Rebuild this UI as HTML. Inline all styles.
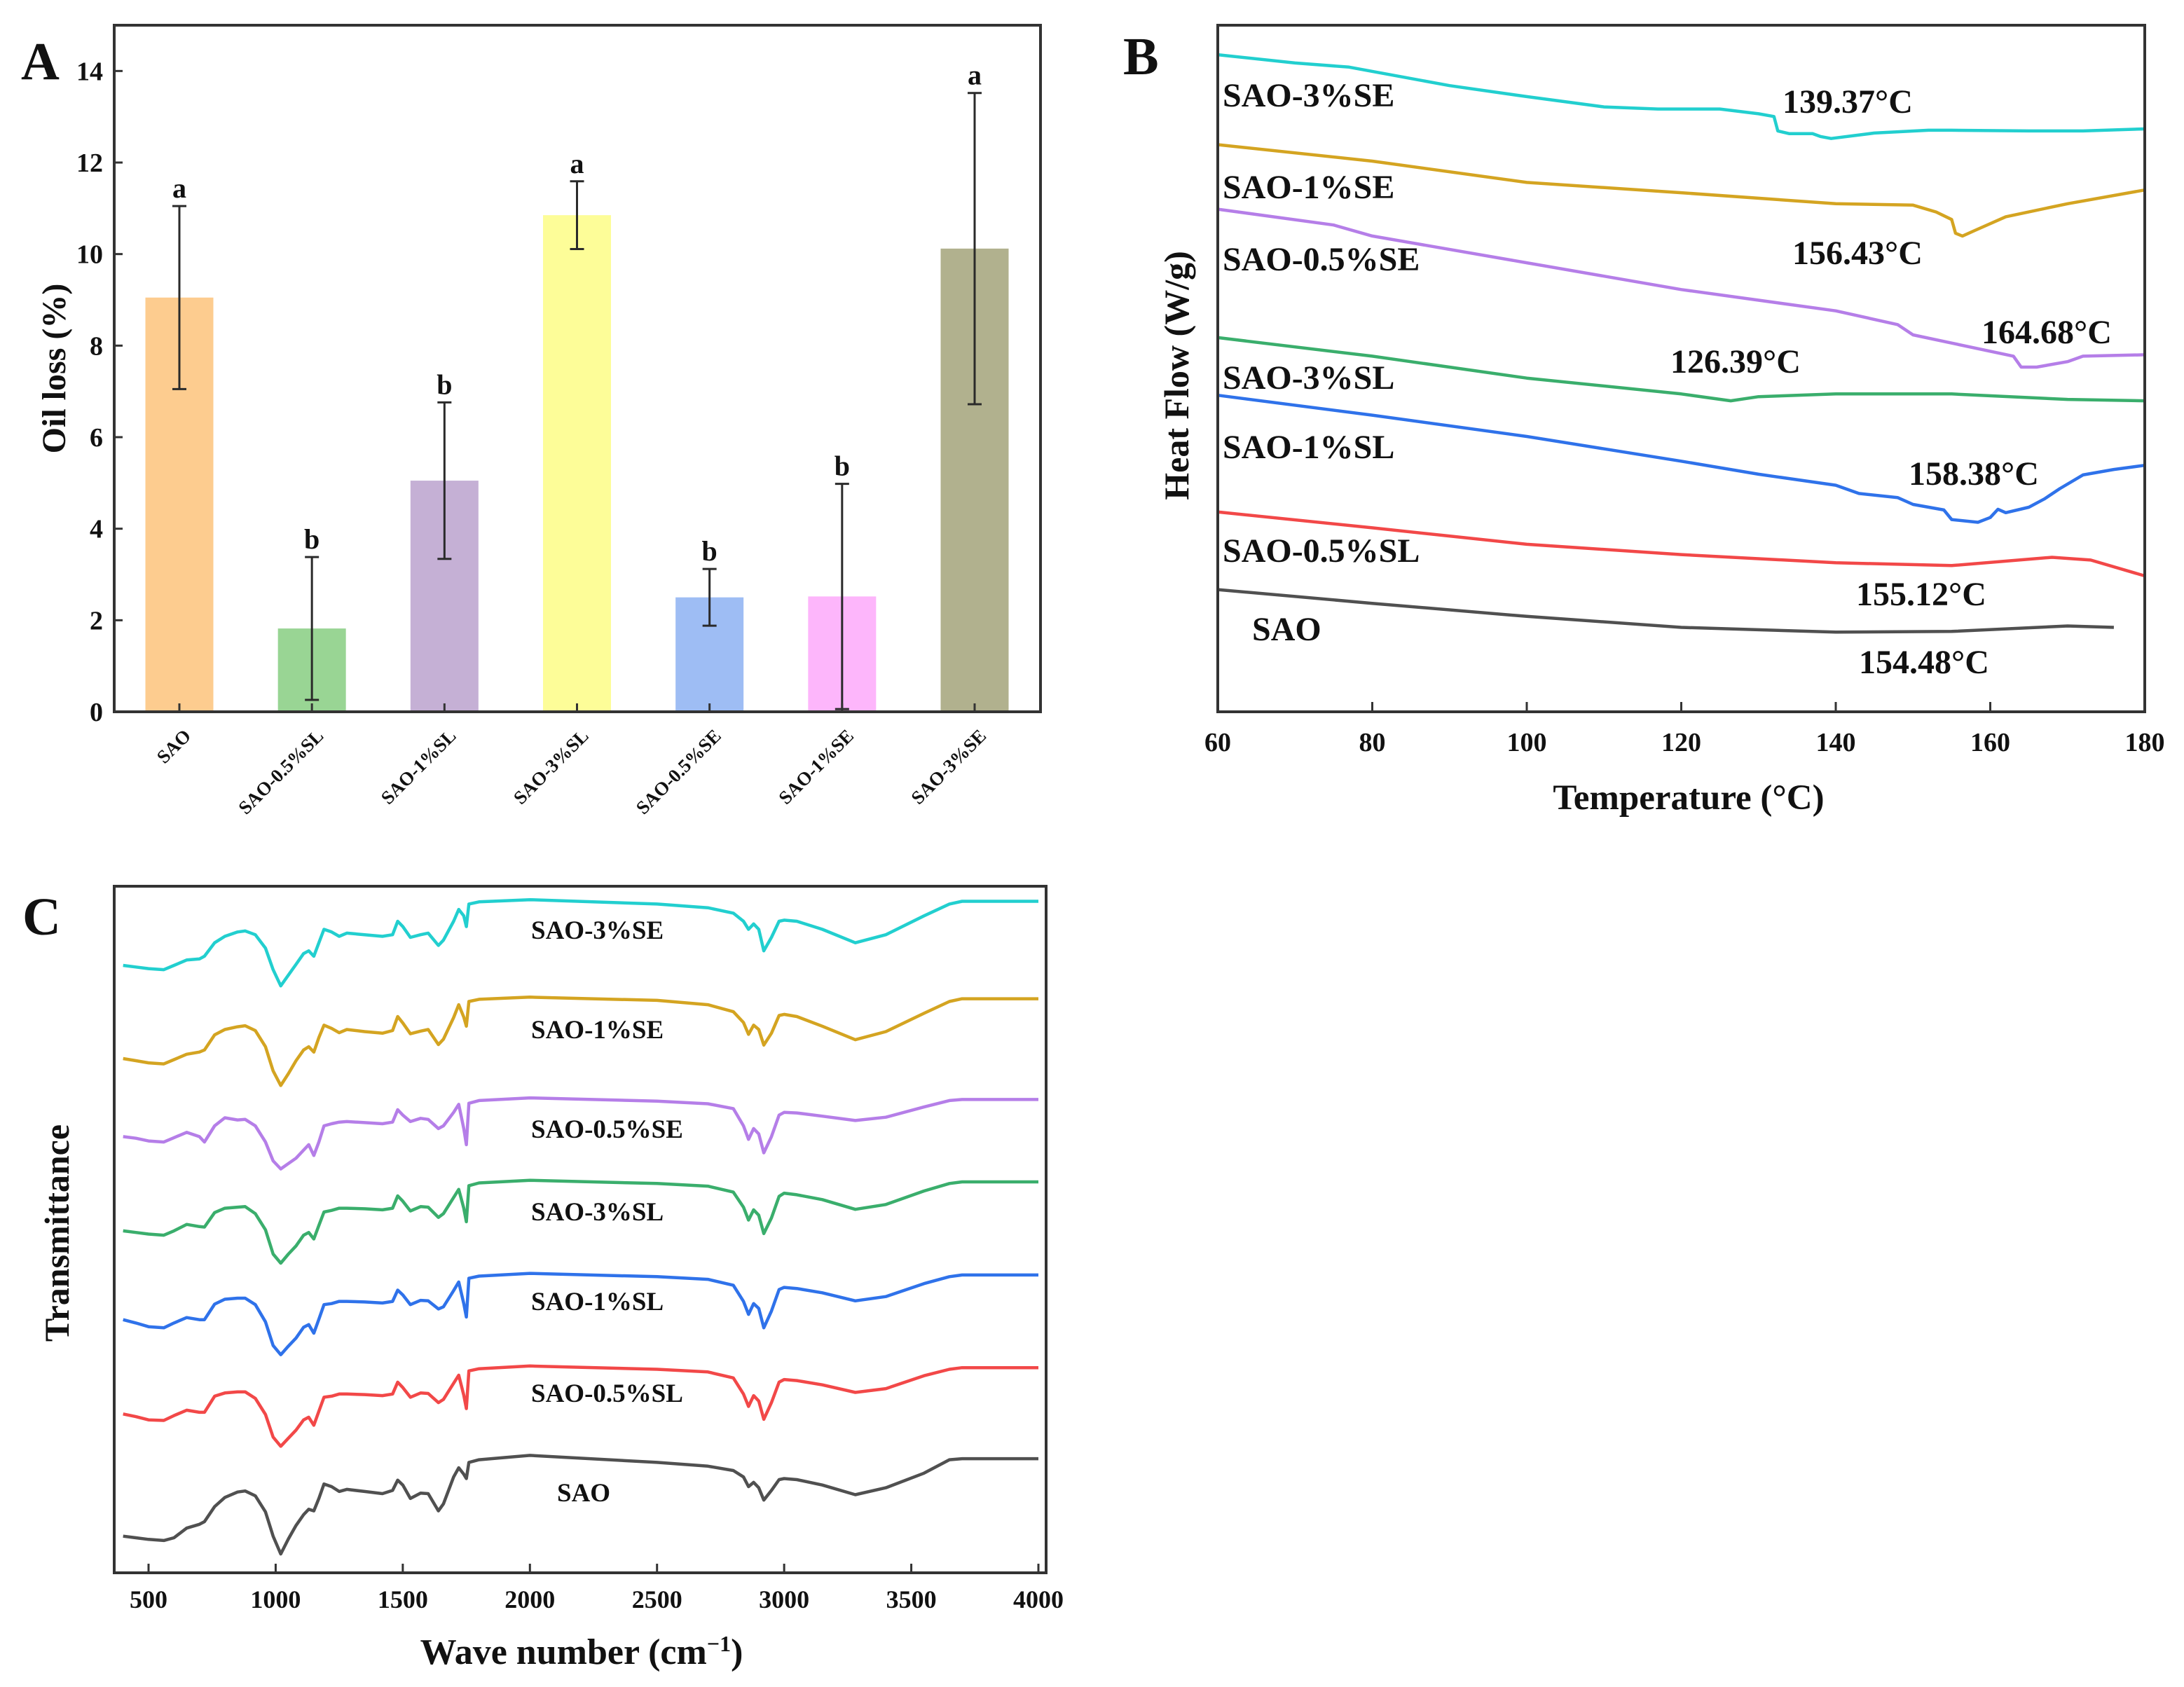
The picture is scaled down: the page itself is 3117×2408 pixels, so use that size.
<!DOCTYPE html>
<html><head><meta charset="utf-8"><title>Oil loss, DSC and FTIR</title>
<style>
html,body{margin:0;padding:0;background:#fff;}
svg{display:block;}
text{font-family:"Liberation Serif",serif;font-weight:bold;fill:#111;}
</style></head>
<body>
<svg id="fig" width="3117" height="2408" viewBox="0 0 3117 2408" xmlns="http://www.w3.org/2000/svg">
<rect x="0" y="0" width="3117" height="2408" fill="#fff"/>
<g id="pa"></g>
<g id="pb"></g>
<g id="pc"></g>
</svg>
<script>
// ---------- Panel A data ----------
const aCategories = ["SAO","SAO-0.5%SL","SAO-1%SL","SAO-3%SL","SAO-0.5%SE","SAO-1%SE","SAO-3%SE"];
const aValues = [9.05,1.82,5.05,10.85,2.5,2.52,10.12];
const aErrors = [2.0,1.56,1.71,0.74,0.62,2.46,3.4];
const aLetters = ["a","b","b","a","b","b","a"];
const aColors = ["#fdcc8f","#99d594","#c5b0d5","#fdfd98","#9ebdf4","#fdb6fb","#b1b18e"];
const aTicks = [0,2,4,6,8,10,12,14];

// ---------- Panel B data ----------
const bNames = ["SAO-3%SE","SAO-1%SE","SAO-0.5%SE","SAO-3%SL","SAO-1%SL","SAO-0.5%SL","SAO"];
const bColors = ["#22cfcf","#d4a421","#b57ee8","#3aae6c","#2f72ea","#f24848","#505050"];
const bT0 = [60,70,77,90,100,110,117,125,130,132,132.5,134,137,138,139.4,145,152,155,165,172,180];
const bV0 = [95.7,94.5,93.9,91.2,89.6,88.1,87.8,87.8,87.1,86.7,84.6,84.2,84.2,83.8,83.5,84.3,84.7,84.7,84.6,84.6,84.9];
const bT1 = [60,80,100,120,140,150,153,155,155.5,156.4,158,162,170,180];
const bV1 = [82.6,80.2,77.1,75.6,74.0,73.8,72.8,71.7,69.7,69.3,70.1,72.1,74.0,76.0];
const bT2 = [60,75,80,100,120,140,148,150,155,163,164,166,170,172,180];
const bV2 = [73.2,70.9,69.3,65.4,61.5,58.4,56.4,54.9,53.7,51.8,50.2,50.2,51.0,51.8,52.0];
const bT3 = [60,80,100,120,126.4,130,140,155,170,180];
const bV3 = [54.5,51.8,48.6,46.3,45.3,45.9,46.3,46.3,45.5,45.3];
const bT4 = [60,80,100,120,130,140,143,148,150,154,155,158.4,160,161,162,165,167,169,172,176,180];
const bV4 = [46.1,43.2,40.1,36.5,34.6,33.0,31.8,31.2,30.2,29.4,28.0,27.6,28.3,29.5,29.0,29.8,31.0,32.5,34.5,35.3,35.9];
const bT5 = [60,80,100,120,140,155,168,173,180];
const bV5 = [29.1,26.8,24.4,22.9,21.7,21.3,22.5,22.1,19.8];
const bT6 = [60,80,100,120,140,155,170,176];
const bV6 = [17.8,15.8,13.9,12.3,11.6,11.7,12.5,12.3];
const bPeakLabels = ["139.37°C","156.43°C","164.68°C","126.39°C","158.38°C","155.12°C","154.48°C"];
const bXTicks = [60,80,100,120,140,160,180];

// ---------- Panel C data ----------
const cNames = ["SAO-3%SE","SAO-1%SE","SAO-0.5%SE","SAO-3%SL","SAO-1%SL","SAO-0.5%SL","SAO"];
const cColors = ["#22cfcf","#d4a421","#b57ee8","#3aae6c","#2f72ea","#f24848","#505050"];
const cOffsets = [124.8,106.7,88.0,72.7,55.4,38.2,21.3];
const cWave = [400,450,500,560,600,650,700,720,760,800,850,880,920,960,990,1020,1050,1080,1110,1130,1150,1170,1190,1220,1250,1280,1350,1420,1460,1480,1500,1530,1570,1600,1640,1660,1700,1720,1740,1750,1760,1800,2000,2500,2700,2800,2840,2860,2880,2900,2920,2950,2980,3000,3050,3150,3280,3400,3550,3650,3700,4000];
const cDepth0 = [12.0,12.3,12.6,12.8,12.0,11.0,10.8,10.3,7.8,6.6,5.8,5.6,6.3,8.8,12.8,15.8,13.8,11.8,9.8,9.3,10.3,7.8,5.3,5.8,6.6,6.0,6.3,6.6,6.3,3.8,4.8,6.8,6.3,6.0,8.3,7.3,3.8,1.6,2.8,4.8,0.6,0.2,-0.2,0.6,1.3,2.3,3.8,5.3,4.3,5.3,9.3,6.8,3.8,3.6,3.8,5.3,7.8,6.3,2.8,0.6,0.1,0.1];
const cDepth1 = [11.2,11.6,12.0,12.2,11.4,10.4,10.0,9.6,6.8,5.8,5.3,5.1,6.0,9.0,13.5,16.2,14.0,11.6,9.6,9.0,10.0,7.3,5.0,5.6,6.4,5.8,6.2,6.5,6.0,3.4,4.6,6.6,6.1,5.8,8.6,7.6,3.6,1.2,3.5,5.2,0.6,0.2,-0.2,0.4,1.2,2.5,4.5,6.7,5.0,5.8,8.7,6.5,3.2,3.0,3.4,5.2,7.7,6.2,2.8,0.6,0.1,0.1];
const cDepth2 = [7.0,7.3,7.8,8.0,7.2,6.2,7.0,8.0,5.0,3.5,3.9,3.8,5.0,8.0,11.5,13.0,12.0,11.0,9.5,8.5,10.5,8.0,5.0,4.6,4.3,4.2,4.4,4.6,4.3,2.0,3.0,4.2,3.6,3.8,5.5,5.0,2.5,1.0,5.5,8.5,0.8,0.3,-0.2,0.4,0.9,1.8,5.0,7.5,5.5,6.5,10.0,7.0,3.0,2.5,2.6,3.2,4.0,3.4,1.5,0.3,0.1,0.1];
const cDepth3 = [9.2,9.5,9.8,10.0,9.2,8.0,8.4,8.5,5.8,5.0,4.8,4.7,6.0,9.0,13.5,15.2,13.5,12.0,10.0,9.5,10.7,8.2,5.7,5.4,5.0,5.0,5.1,5.3,5.0,2.7,3.7,5.5,4.7,4.8,6.7,6.0,3.0,1.5,5.0,7.5,0.8,0.3,-0.2,0.4,0.9,2.0,4.8,7.2,5.3,6.3,9.7,6.8,2.8,2.2,2.5,3.4,5.2,4.3,1.8,0.4,0.1,0.1];
const cDepth4 = [8.4,9.0,9.7,9.9,9.0,8.0,8.4,8.4,5.5,4.6,4.4,4.4,5.6,8.8,13.2,14.9,13.3,11.8,9.8,9.3,10.9,8.3,5.6,5.4,5.0,5.0,5.1,5.3,5.0,2.9,3.8,5.6,4.8,4.9,6.4,6.0,3.0,1.4,5.4,7.9,0.7,0.3,-0.2,0.4,0.9,2.0,5.0,7.4,5.4,6.3,9.9,6.8,2.8,2.4,2.6,3.4,4.9,4.1,1.7,0.4,0.1,0.1];
const cDepth5 = [8.7,9.2,9.8,9.9,9.0,8.0,8.4,8.4,5.4,4.8,4.6,4.6,5.8,8.8,13.0,14.7,13.2,11.7,9.8,9.3,10.8,8.2,5.6,5.4,5.0,5.0,5.1,5.3,5.0,2.8,3.8,5.6,4.8,4.9,6.6,6.0,3.0,1.5,5.2,7.7,0.7,0.3,-0.2,0.4,0.9,2.0,5.0,7.3,5.3,6.3,9.7,6.6,2.8,2.3,2.5,3.3,4.7,4.0,1.6,0.4,0.1,0.1];
const cDepth6 = [14.5,14.8,15.1,15.3,14.8,13.0,12.3,11.8,9.0,7.3,6.3,6.1,7.0,10.0,14.5,17.8,15.0,12.5,10.5,9.5,9.8,7.5,4.8,5.3,6.2,5.8,6.2,6.6,6.0,4.1,5.0,7.5,6.5,6.6,9.8,8.5,3.5,1.8,3.0,3.8,0.8,0.3,-0.5,0.8,1.5,2.3,3.5,5.3,4.5,5.5,7.8,6.0,4.0,3.8,4.0,5.0,6.8,5.5,2.8,0.3,0.1,0.1];
const cXTicks = [500,1000,1500,2000,2500,3000,3500,4000];

// ---------- helpers ----------
const NS = "http://www.w3.org/2000/svg";
function mk(parent, tag, attrs, txt){
  const e = document.createElementNS(NS, tag);
  for (const k in attrs) e.setAttribute(k, attrs[k]);
  if (txt !== undefined) e.textContent = txt;
  parent.appendChild(e);
  return e;
}
function lin(d0,d1,r0,r1){ return v => r0 + (v-d0)*(r1-r0)/(d1-d0); }

// ================= Panel A =================
(function(){
  const g = document.getElementById("pa");
  const L=163,R=1485,T=36,B=1016;
  const y = lin(0,15,B,T);
  const x = lin(0,6,256,1391);
  const bw = 97;
  aValues.forEach((v,i)=>{
    const r = mk(g,"rect",{x:x(i)-bw/2,y:y(v),width:bw,height:B-y(v),fill:aColors[i]});
    
    
  });
  aValues.forEach((v,i)=>{
    const top=y(v+aErrors[i]), bot=y(Math.max(0,v-aErrors[i]));
    const eg = mk(g,"g",{stroke:"#2a2a2a","stroke-width":3});
    
    
    mk(eg,"line",{x1:x(i),x2:x(i),y1:top,y2:bot});
    mk(eg,"line",{x1:x(i)-10,x2:x(i)+10,y1:top,y2:top});
    mk(eg,"line",{x1:x(i)-10,x2:x(i)+10,y1:bot,y2:bot});
    const t = mk(g,"text",{x:x(i),y:top-12,"text-anchor":"middle","font-size":40},aLetters[i]);
    
    
  });
  const f = mk(g,"rect",{x:L,y:T,width:R-L,height:B-T,fill:"none",stroke:"#333","stroke-width":4});
  
  
  aTicks.forEach(t=>{
    mk(g,"line",{x1:L,x2:L+12,y1:y(t),y2:y(t),stroke:"#333","stroke-width":3});
    const tl = mk(g,"text",{x:L-16,y:y(t)+13,"text-anchor":"end","font-size":38},String(t));
    
    
  });
  aCategories.forEach((c,i)=>{
    mk(g,"line",{x1:x(i),x2:x(i),y1:B,y2:B-12,stroke:"#333","stroke-width":3});
    const tl = mk(g,"text",{x:0,y:0,"text-anchor":"end","font-size":27,transform:`translate(${x(i)+18},${B+36}) rotate(-45)`},c);
    
    
  });
  const yl = mk(g,"text",{x:0,y:0,"text-anchor":"middle","font-size":48,transform:`translate(93,${(T+B)/2}) rotate(-90)`},"Oil loss (%)");
  
  
  const pl = mk(g,"text",{x:30,y:113,"font-size":76},"A");
  
  
})();

// ================= Panel B =================
(function(){
  const g = document.getElementById("pb");
  const L=1738,R=3061,T=36,B=1016;
  const x = lin(60,180,L,R);
  const y = lin(0,100,B,T);
  const Ts=[bT0,bT1,bT2,bT3,bT4,bT5,bT6], Vs=[bV0,bV1,bV2,bV3,bV4,bV5,bV6];
  Ts.forEach((ts,k)=>{
    const d = ts.map((t,i)=>(i?"L":"M")+x(t).toFixed(1)+","+y(Vs[k][i]).toFixed(1)).join(" ");
    const p = mk(g,"path",{d:d,fill:"none",stroke:bColors[k],"stroke-width":4.5,"stroke-linejoin":"round"});
    
    
  });
  const nameLoc=[[1745,152],[1745,283],[1745,386],[1745,555],[1745,654],[1745,802],[1787,914]];
  bNames.forEach((n,k)=>{
    const t = mk(g,"text",{x:nameLoc[k][0],y:nameLoc[k][1],"font-size":48},n);
    
    
  });
  const peakLoc=[[2544,161],[2558,377],[2828,490],[2384,532],[2724,692],[2649,864],[2653,961]];
  bPeakLabels.forEach((n,k)=>{
    const t = mk(g,"text",{x:peakLoc[k][0],y:peakLoc[k][1],"font-size":48},n);
    
    
  });
  const f = mk(g,"rect",{x:L,y:T,width:R-L,height:B-T,fill:"none",stroke:"#333","stroke-width":4});
  
  
  bXTicks.forEach(t=>{
    mk(g,"line",{x1:x(t),x2:x(t),y1:B,y2:B-14,stroke:"#333","stroke-width":3});
    const tl = mk(g,"text",{x:x(t),y:B+56,"text-anchor":"middle","font-size":38},String(t));
    
    
  });
  const xl = mk(g,"text",{x:2410,y:1155,"text-anchor":"middle","font-size":51},"Temperature (°C)");
  
  
  const yl = mk(g,"text",{x:0,y:0,"text-anchor":"middle","font-size":50,transform:`translate(1696,536) rotate(-90)`},"Heat Flow (W/g)");
  
  
  const pl = mk(g,"text",{x:1603,y:106,"font-size":76},"B");
  
  
})();

// ================= Panel C =================
(function(){
  const g = document.getElementById("pc");
  const L=163,R=1493,T=1265,B=2245;
  const x = lin(500,4000,212,1482);
  const y = lin(0,127.5,B,T);
  const Ds=[cDepth0,cDepth1,cDepth2,cDepth3,cDepth4,cDepth5,cDepth6];
  Ds.forEach((ds,k)=>{
    const d = cWave.map((w,i)=>(i?"L":"M")+x(w).toFixed(1)+","+y(cOffsets[k]-ds[i]).toFixed(1)).join(" ");
    const p = mk(g,"path",{d:d,fill:"none",stroke:cColors[k],"stroke-width":4.5,"stroke-linejoin":"round"});
    
    
  });
  const nameLoc=[[758,1340],[758,1482],[758,1624],[758,1742],[758,1870],[758,2001],[795,2143]];
  cNames.forEach((n,k)=>{
    const t = mk(g,"text",{x:nameLoc[k][0],y:nameLoc[k][1],"font-size":37},n);
    
    
  });
  const f = mk(g,"rect",{x:L,y:T,width:R-L,height:B-T,fill:"none",stroke:"#333","stroke-width":4});
  
  
  cXTicks.forEach(t=>{
    mk(g,"line",{x1:x(t),x2:x(t),y1:B,y2:B-13,stroke:"#333","stroke-width":3});
    const tl = mk(g,"text",{x:x(t),y:B+50,"text-anchor":"middle","font-size":36},String(t));
    
    
  });
  const xl = mk(g,"text",{x:830,y:2375,"text-anchor":"middle","font-size":52},"Wave number (cm");
  
  
  mk(xl,"tspan",{"baseline-shift":"super","font-size":32},"−1");
  mk(xl,"tspan",{},")");
  const yl = mk(g,"text",{x:0,y:0,"text-anchor":"middle","font-size":50,transform:`translate(98,1760) rotate(-90)`},"Transmittance");
  
  
  const pl = mk(g,"text",{x:32,y:1334,"font-size":76},"C");
  
  
})();
</script>
</body></html>
